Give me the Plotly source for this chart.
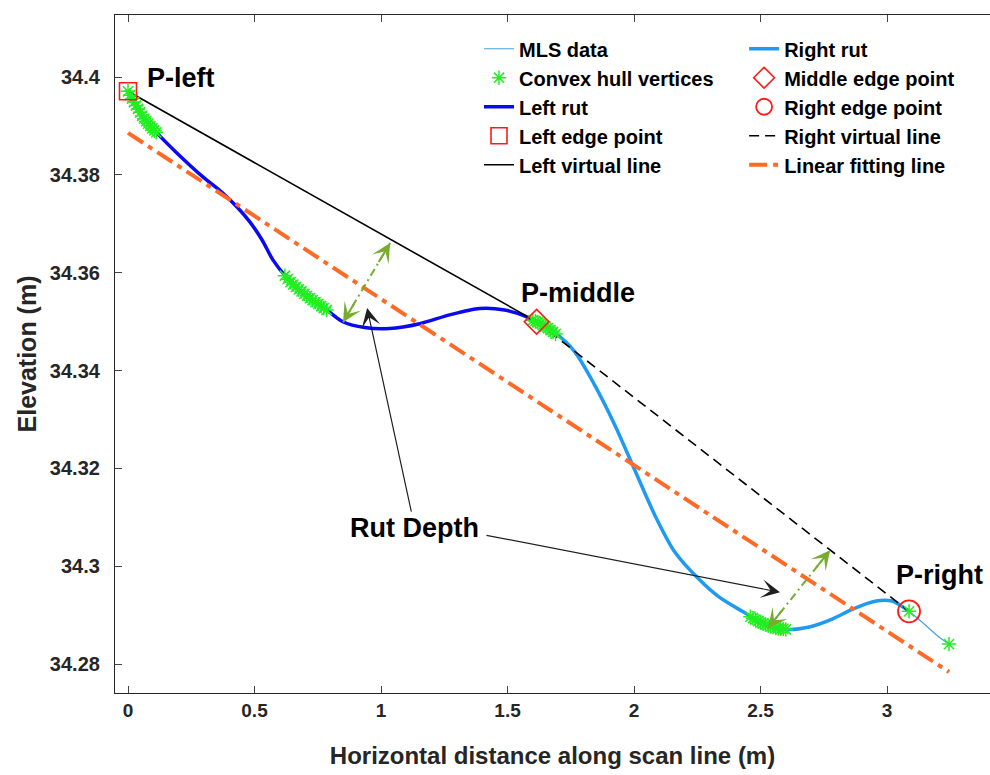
import plotly.graph_objects as go

# ---------------- data ----------------
mls_x = [0.0, 0.03, 0.059, 0.114, 0.193, 0.296, 0.37, 0.43, 0.48, 0.53, 0.572, 0.628, 0.707,
         0.786, 0.849, 0.936, 1.034, 1.153, 1.271, 1.39, 1.488, 1.567, 1.615, 1.686, 1.765,
         1.844, 1.923, 2.002, 2.081, 2.159, 2.258, 2.337, 2.428, 2.523, 2.602, 2.693, 2.783,
         2.862, 2.957, 3.02, 3.06, 3.087, 3.147, 3.206, 3.245]
mls_y = [34.3971, 34.3945, 34.3918, 34.3886, 34.3845, 34.3796, 34.3765, 34.3735, 34.3705,
         34.3667, 34.3627, 34.3590, 34.3551, 34.3524, 34.3500, 34.3488, 34.3486, 34.3496,
         34.3514, 34.3527, 34.3524, 34.3512, 34.3500, 34.3478, 34.3439, 34.3371, 34.3290,
         34.3198, 34.3106, 34.3031, 34.2973, 34.2937, 34.2908, 34.2880, 34.2871, 34.2876,
         34.2892, 34.2912, 34.2929, 34.2929, 34.2918, 34.2908, 34.2882, 34.2855, 34.2841]

hull_x = [0.0, 0.008, 0.016, 0.024, 0.032, 0.040, 0.048, 0.056, 0.064, 0.072, 0.080, 0.088,
          0.096, 0.104, 0.112,
          0.62, 0.631, 0.642, 0.653, 0.664, 0.675, 0.686, 0.697, 0.708, 0.719, 0.730, 0.741,
          0.752, 0.763, 0.774, 0.785,
          1.600, 1.61, 1.62, 1.63, 1.64, 1.65, 1.66, 1.67, 1.68, 1.69,
          2.46, 2.47, 2.48, 2.49, 2.50, 2.51, 2.52, 2.53, 2.54, 2.55, 2.56, 2.57, 2.58, 2.59, 2.60,
          3.087, 3.245]
hull_y = [34.3971, 34.3963, 34.3956, 34.3949, 34.3942, 34.3935, 34.3928, 34.3921, 34.3915,
          34.3910, 34.3905, 34.3900, 34.3895, 34.3891, 34.3887,
          34.3594, 34.3587, 34.3581, 34.3576, 34.3571, 34.3566, 34.3562, 34.3557, 34.3553,
          34.3548, 34.3544, 34.3540, 34.3536, 34.3532, 34.3528, 34.3524,
          34.3503, 34.3501, 34.3499, 34.3496, 34.3493, 34.3490, 34.3487, 34.3483, 34.3479, 34.3475,
          34.2897, 34.2894, 34.2891, 34.2888, 34.2885, 34.2883, 34.2881, 34.2879, 34.2877,
          34.2876, 34.2874, 34.2873, 34.2872, 34.2872, 34.2871,
          34.2908, 34.2841]

p_left = (0.0, 34.3971)
p_middle = (1.615, 34.3500)
p_right = (3.087, 34.2908)

fit_x = [0.0, 3.245]
fit_y = [34.3886, 34.2784]

# rut depth (green double arrows): [x0, x1], [y0, y1]
depth1_x = [0.850, 1.036]
depth1_y = [34.3499, 34.3661]
depth2_x = [2.530, 2.775]
depth2_y = [34.2874, 34.3033]

# "Rut Depth" label and pointer arrows
rut_label = (1.134, 34.3078)
pointer1_head = (0.945, 34.3528)
pointer2_tail = (1.411, 34.3064)
pointer2_head = (2.577, 34.2947)

labels = [("P-left", 0.209, 34.3998), ("P-middle", 1.779, 34.3558), ("P-right", 3.206, 34.2982)]

x_ticks = [0, 0.5, 1, 1.5, 2, 2.5, 3]
x_ticktext = ["0", "0.5", "1", "1.5", "2", "2.5", "3"]
y_ticks = [34.28, 34.30, 34.32, 34.34, 34.36, 34.38, 34.40]
y_ticktext = ["34.28", "34.3", "34.32", "34.34", "34.36", "34.38", "34.4"]

# ---------------- styles ----------------
FONT = "Liberation Sans"
C_MLS = "#4A9FE0"
C_LEFT = "#0A0AF0"
C_RIGHT = "#1E9BF0"
C_GREEN = "#22EE22"
C_ORANGE = "#FF6A26"
C_ARROW = "#77AC30"
X_RANGE = [-0.0514, 3.407]
Y_RANGE = [34.2741, 34.4127]
PX_X = 253.0
PX_Y = 4892.0

left_x = [x for x in mls_x if x <= p_middle[0]]
left_y = [y for x, y in zip(mls_x, mls_y) if x <= p_middle[0]]
right_x = [x for x in mls_x if p_middle[0] <= x <= p_right[0]]
right_y = [y for x, y in zip(mls_x, mls_y) if p_middle[0] <= x <= p_right[0]]

fig = go.Figure()

fig.add_trace(go.Scatter(x=mls_x, y=mls_y, mode="lines", name="MLS data",
                         line=dict(color=C_MLS, width=1.2, shape="spline", smoothing=0.8),
                         legend="legend", legendrank=1))
fig.add_trace(go.Scatter(x=left_x, y=left_y, mode="lines", name="Left rut",
                         line=dict(color=C_LEFT, width=3.5, shape="spline", smoothing=0.8),
                         legend="legend", legendrank=3))
fig.add_trace(go.Scatter(x=right_x, y=right_y, mode="lines", name="Right rut",
                         line=dict(color=C_RIGHT, width=3.5, shape="spline", smoothing=0.8),
                         legend="legend2", legendrank=6))
fig.add_trace(go.Scatter(x=[p_left[0], p_middle[0]], y=[p_left[1], p_middle[1]], mode="lines",
                         name="Left virtual line", line=dict(color="black", width=1.6),
                         legend="legend", legendrank=5))
fig.add_trace(go.Scatter(x=[p_middle[0], p_right[0]], y=[p_middle[1], p_right[1]], mode="lines",
                         name="Right virtual line", line=dict(color="black", width=1.6, dash="10px,6px"),
                         legend="legend2", legendrank=9))
fig.add_trace(go.Scatter(x=fit_x, y=fit_y, mode="lines", name="Linear fitting line",
                         line=dict(color=C_ORANGE, width=4, dash="18px,6px,5px,6px"),
                         legend="legend2", legendrank=10))
fig.add_trace(go.Scatter(x=hull_x, y=hull_y, mode="markers", name="Convex hull vertices",
                         marker=dict(symbol="asterisk-open", size=12, color=C_GREEN,
                                     line=dict(color=C_GREEN, width=1.5)),
                         legend="legend", legendrank=2))
fig.add_trace(go.Scatter(x=[p_left[0]], y=[p_left[1]], mode="markers", name="Left edge point",
                         marker=dict(symbol="square-open", size=17, color="#FF1A1A",
                                     line=dict(color="#FF1A1A", width=1.6)),
                         legend="legend", legendrank=4))
fig.add_trace(go.Scatter(x=[p_middle[0]], y=[p_middle[1]], mode="markers", name="Middle edge point",
                         marker=dict(symbol="diamond-open", size=19, color="#FF1A1A",
                                     line=dict(color="#FF1A1A", width=1.6)),
                         legend="legend2", legendrank=7))
fig.add_trace(go.Scatter(x=[p_right[0]], y=[p_right[1]], mode="markers", name="Right edge point",
                         marker=dict(symbol="circle-open", size=22, color="#FF1A1A",
                                     line=dict(color="#FF1A1A", width=1.8)),
                         legend="legend2", legendrank=8))

# green dash-dot depth lines
for dx, dy in [(depth1_x, depth1_y), (depth2_x, depth2_y)]:
    fig.add_trace(go.Scatter(x=dx, y=dy, mode="lines", showlegend=False, hoverinfo="skip",
                             line=dict(color=C_ARROW, width=2, dash="8px,4px,2px,4px")))

annotations = []
HEAD = 24.0
for dx, dy in [(depth1_x, depth1_y), (depth2_x, depth2_y)]:
    vx = (dx[1] - dx[0]) * PX_X
    vy = -(dy[1] - dy[0]) * PX_Y
    L = (vx ** 2 + vy ** 2) ** 0.5
    ux, uy = vx / L, vy / L
    annotations.append(dict(x=dx[0], y=dy[0], ax=ux * HEAD, ay=uy * HEAD, xref="x", yref="y",
                            text="", showarrow=True, arrowhead=3, arrowsize=1.6, arrowwidth=2,
                            arrowcolor=C_ARROW, standoff=0))
    annotations.append(dict(x=dx[1], y=dy[1], ax=-ux * HEAD, ay=-uy * HEAD, xref="x", yref="y",
                            text="", showarrow=True, arrowhead=3, arrowsize=1.6, arrowwidth=2,
                            arrowcolor=C_ARROW, standoff=0))

annotations.append(dict(x=pointer1_head[0], y=pointer1_head[1], ax=rut_label[0], ay=rut_label[1],
                        xref="x", yref="y", axref="x", ayref="y", text="Rut Depth",
                        font=dict(family=FONT, size=27, color="black", weight="bold"),
                        showarrow=True, arrowhead=3, arrowsize=2.6, arrowwidth=1.2,
                        arrowcolor="#202020", standoff=0))
annotations.append(dict(x=pointer2_head[0], y=pointer2_head[1], ax=pointer2_tail[0], ay=pointer2_tail[1],
                        xref="x", yref="y", axref="x", ayref="y", text="",
                        showarrow=True, arrowhead=3, arrowsize=2.6, arrowwidth=1.2,
                        arrowcolor="#202020", standoff=0))
for t, lx, ly in labels:
    annotations.append(dict(x=lx, y=ly, xref="x", yref="y", text=t, showarrow=False,
                            font=dict(family=FONT, size=27, color="black", weight="bold")))

legend_style = dict(font=dict(family=FONT, size=20, color="black", weight="bold"),
                    bgcolor="rgba(255,255,255,0)", borderwidth=0, tracegroupgap=0,
                    xanchor="left", yanchor="top", traceorder="normal")

fig.update_layout(
    width=990, height=775, autosize=False,
    margin=dict(l=115, r=0, t=15, b=82),
    paper_bgcolor="white", plot_bgcolor="white",
    font=dict(family=FONT, color="#262626"),
    showlegend=True,
    legend=dict(x=0.416, y=0.979, **legend_style),
    legend2=dict(x=0.719, y=0.979, **legend_style),
    annotations=annotations,
    xaxis=dict(range=X_RANGE, tickvals=x_ticks, ticktext=x_ticktext, ticks="inside", ticklen=7,
               showline=True, linecolor="#262626", linewidth=1.2, mirror="ticks",
               showgrid=False, zeroline=False,
               tickfont=dict(family=FONT, size=19, color="#262626", weight="bold"),
               title=dict(text="Horizontal distance along scan line (m)", standoff=27,
                          font=dict(family=FONT, size=24, color="#262626", weight="bold"))),
    yaxis=dict(range=Y_RANGE, tickvals=y_ticks, ticktext=y_ticktext, ticks="inside", ticklen=7,
               ticklabelstandoff=10,
               showline=True, linecolor="#262626", linewidth=1.2, mirror=False,
               showgrid=False, zeroline=False,
               tickfont=dict(family=FONT, size=20, color="#262626", weight="bold"),
               title=dict(text="Elevation (m)", standoff=6,
                          font=dict(family=FONT, size=25, color="#262626", weight="bold"))),
)

fig.write_html("out.html")
